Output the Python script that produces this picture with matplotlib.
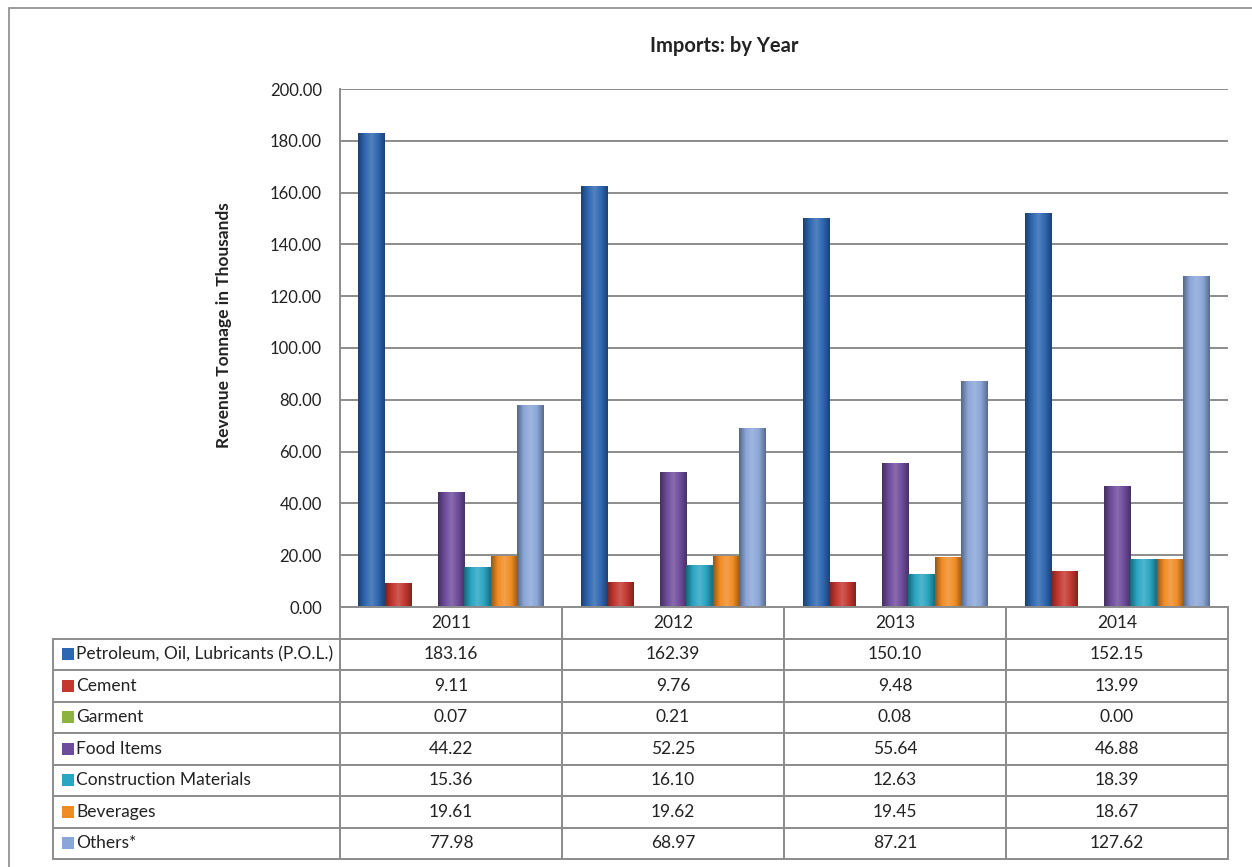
import numpy as np
import matplotlib.pyplot as plt
from matplotlib.patches import Rectangle
from matplotlib.colors import LinearSegmentedColormap, to_rgb

plt.rcParams['font.family'] = ['Lato', 'DejaVu Sans']

# data
years = ['2011', '2012', '2013', '2014']
categories = ['Petroleum, Oil, Lubricants (P.O.L.)', 'Cement', 'Garment', 'Food Items',
              'Construction Materials', 'Beverages', 'Others*']
pol = [183.16, 162.39, 150.10, 152.15]
cement = [9.11, 9.76, 9.48, 13.99]
garment = [0.07, 0.21, 0.08, 0.00]
food = [44.22, 52.25, 55.64, 46.88]
construction = [15.36, 16.10, 12.63, 18.39]
beverages = [19.61, 19.62, 19.45, 18.67]
others = [77.98, 68.97, 87.21, 127.62]
series = [pol, cement, garment, food, construction, beverages, others]
colors = ['#2E67B1', '#C3372F', '#8CB33F', '#6E4C9C', '#2AA5C2', '#F08C24', '#8AA6D8']
y_ticks = [0, 20, 40, 60, 80, 100, 120, 140, 160, 180, 200]

W, H = 1252, 867
fig = plt.figure(figsize=(W / 100, H / 100), dpi=100)


def px(x0, y0, x1, y1):
    # pixel box (top-left origin) -> figure rect
    return [x0 / W, 1 - y1 / H, (x1 - x0) / W, (y1 - y0) / H]


# outer chart border
fig.patches.append(Rectangle((9 / W, -0.05), 1.1, 1 - 8 / H + 0.05, transform=fig.transFigure,
                             fill=False, edgecolor='#8a8a8a', linewidth=1.2))

ax = fig.add_axes(px(340, 89, 1228, 607))
gray = '#8c8c8c'
n = len(series)
gap = 1.4
bw = 1 / (n + gap)
x = np.arange(len(years))


def shade_cmap(c):
    r = np.array(to_rgb(c))
    dark = r * 0.62
    light = np.clip(r + (1 - r) * 0.18, 0, 1)
    return LinearSegmentedColormap.from_list('s', [dark, r, light, r, dark * 1.05])


grad = np.linspace(0, 1, 64).reshape(1, -1)
for i, (vals, c) in enumerate(zip(series, colors)):
    xs = x - 0.5 + gap / 2 * bw + (i + 0.5) * bw
    bars = ax.bar(xs, vals, width=bw, color=c, linewidth=0, zorder=3)
    cm = shade_cmap(c)
    for b in bars:
        if b.get_height() <= 0.3:
            continue
        bx, by = b.get_x(), b.get_y()
        im = ax.imshow(grad, cmap=cm, aspect='auto', zorder=3.5,
                       extent=[bx, bx + b.get_width(), by, by + b.get_height()])
        im.set_clip_path(b)

ax.set_xlim(-0.5, len(years) - 0.5)
ax.set_ylim(0, 200)
ax.set_yticks(y_ticks)
ax.set_yticklabels([f'{v:.2f}' for v in y_ticks], fontsize=12, color='#222222')
ax.tick_params(axis='y', length=0, pad=13)
ax.set_xticks([])
ax.grid(axis='y', color=gray, linewidth=1.4, zorder=0)
for s in ['top', 'right', 'bottom']:
    ax.spines[s].set_visible(False)
ax.spines['left'].set_color(gray)
ax.spines['left'].set_linewidth(1.4)

fig.text(724 / W, 1 - 46 / H, 'Imports: by Year', ha='center', va='center',
         fontsize=14.5, fontweight='bold', color='#222222')
fig.text(224 / W, 1 - 325 / H, 'Revenue Tonnage in Thousands', ha='center', va='center',
         rotation=90, fontsize=12.5, fontweight='bold', color='#222222')

# data table
tax = fig.add_axes(px(53, 607, 1228, 859))
tax.axis('off')
cell_text = [[''] + years] + [[cat] + [f'{v:.2f}' for v in vals] for cat, vals in zip(categories, series)]
col_w = [287] + [222] * len(years)
tbl = tax.table(cellText=cell_text, colWidths=col_w, cellLoc='center', bbox=[0, 0, 1, 1])
tbl.auto_set_font_size(False)
tbl.set_fontsize(12.5)
for (r, c), cell in tbl.get_celld().items():
    cell.set_edgecolor(gray)
    cell.set_linewidth(1.4)
    cell.get_text().set_color('#222222')
    if r == 0 and c == 0:
        cell.visible_edges = ''
    if c == 0 and r > 0:
        cell.get_text().set_ha('left')
        cell.PAD = 0.08
        cell._loc = 'left'

nrows = len(categories) + 1
for i, c in enumerate(colors):
    yc = 1 - (i + 1.5) / nrows
    sw = 12 / 1175
    sh = 12 / 252
    tax.add_patch(Rectangle((9 / 1175, yc - sh / 2), sw, sh, transform=tax.transAxes,
                            facecolor=c, edgecolor='none', clip_on=False))

fig.savefig('out.png', dpi=100)
